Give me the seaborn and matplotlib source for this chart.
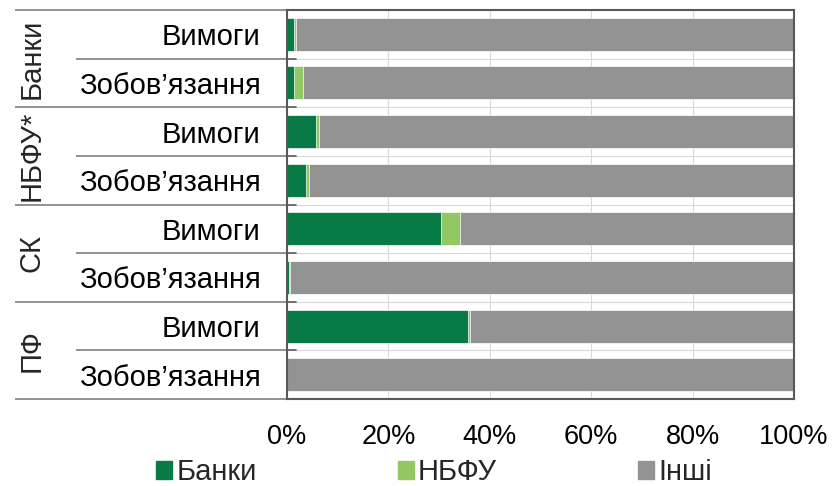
import matplotlib.pyplot as plt
import pandas as pd
import seaborn as sns
from matplotlib.patches import Patch

# data (% of total)
groups = ["Банки", "НБФУ*", "СК", "ПФ"]
kinds = ["Вимоги", "Зобов’язання"]
banks = [1.4, 1.3, 5.7, 3.8, 30.4, 0.4, 35.8, 0.0]
nbfu = [0.3, 1.8, 0.7, 0.6, 3.7, 0.1, 0.3, 0.0]
legend_labels = ["Банки", "НБФУ", "Інші"]
x_ticks = [0, 20, 40, 60, 80, 100]

colors = {"Банки": "#077a45", "НБФУ": "#92c764", "Інші": "#939393"}

rows = [f"{g}|{k}" for g in groups for k in kinds]
df = pd.DataFrame({"row": rows, "banks": banks, "nbfu": nbfu})
df["bn"] = df["banks"] + df["nbfu"]
df["total"] = 100.0  # "Інші" fills the rest up to 100%

sns.set_theme(style="white")
plt.rcParams["font.family"] = ["Liberation Sans", "DejaVu Sans"]

fig, ax = plt.subplots(figsize=(8.34, 4.86), dpi=100)
fig.subplots_adjust(left=0.3441, right=0.952, top=0.9794, bottom=0.179)

ax.set_axisbelow(True)
ax.grid(axis="x", color="#d9d9d9", linewidth=0.8)

# stacked bars: draw cumulative totals back to front
for col, name in [("total", "Інші"), ("bn", "НБФУ"), ("banks", "Банки")]:
    sns.barplot(data=df, x=col, y="row", orient="h", color=colors[name],
                width=0.68, edgecolor="white", linewidth=0.5, saturation=1,
                errorbar=None, ax=ax)

n = len(rows)
ax.set_xlim(0, 100)
ax.set_ylim(n - 0.5, -0.5)
ax.set_xticks(x_ticks)
ax.set_xticklabels([f"{v}%" for v in x_ticks], fontsize=19.5)
ax.set_yticks(range(n))
ax.set_yticklabels(kinds * len(groups), fontsize=21)
ax.tick_params(axis="x", length=0, pad=18, colors="black")
ax.tick_params(axis="y", length=0, pad=19, colors="black")
ax.set_xlabel("")
ax.set_ylabel("")

for s in ax.spines.values():
    s.set_color("#595959")
    s.set_linewidth(1.5)

# category separators (multi-level axis)
trans = ax.get_yaxis_transform()
for i in range(n + 1):
    y = i - 0.5
    x0 = -0.5365 if i % 2 == 0 else -0.416
    ax.plot([x0, 0], [y, y], transform=trans, color="#7f7f7f", lw=1.2,
            clip_on=False, solid_capstyle="butt")
    if 0 < i < n:
        ax.plot([0, 1], [y, y], transform=trans, color="#d9d9d9", lw=0.8, zorder=0.5)
        ax.plot([0, 0.018], [y, y], transform=trans, color="#595959", lw=1.2, zorder=3)

for j, g in enumerate(groups):
    ax.text(-0.503, 2 * j + 0.5, g, transform=trans, rotation=90,
            ha="center", va="center", fontsize=21)

handles = [Patch(color=colors[k]) for k in legend_labels]
fig.legend(handles, legend_labels, loc="center left",
           bbox_to_anchor=(156 / 834, 0.028), ncol=3, frameon=False,
           fontsize=21, handlelength=0.55, handleheight=0.55,
           handletextpad=0.15, columnspacing=4.83, borderpad=0, borderaxespad=0)

fig.savefig("out.png", dpi=100)
